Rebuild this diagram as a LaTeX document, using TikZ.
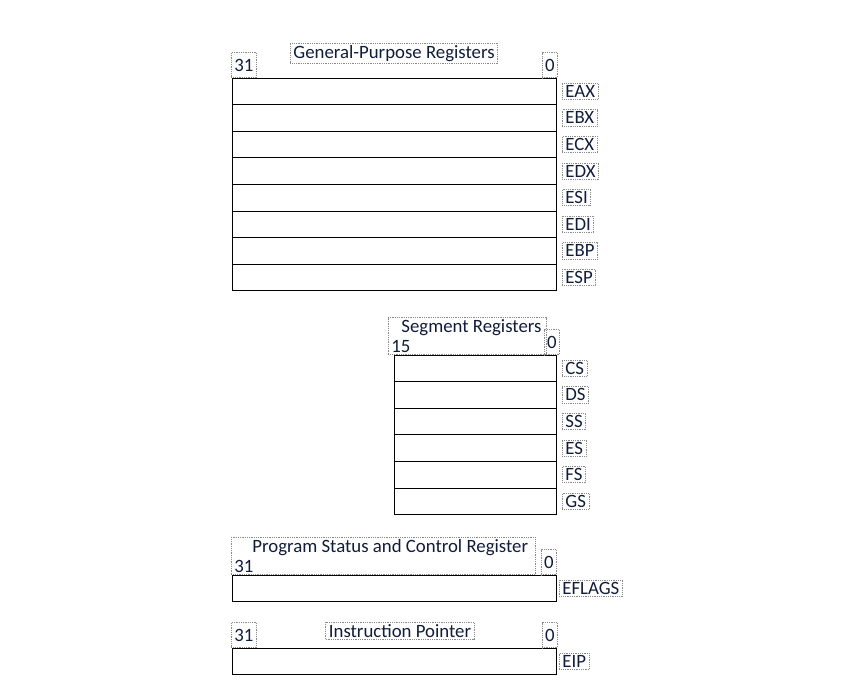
\documentclass[tikz,border=0pt]{standalone}
\usepackage{fontspec}
\setmainfont{Carlito}
\usepackage{xcolor}
\usepackage{tikz}
\usetikzlibrary{positioning}
\definecolor{RegInk}{HTML}{101C3A}
\definecolor{RegDot}{HTML}{8A8A8A}

\begin{document}
\begin{tikzpicture}[x=1pt,y=-1pt,
  reg/.style={draw=black,line width=1pt,minimum height=26.6pt,inner sep=0pt,outer sep=0pt},
  wide/.style={reg,minimum width=324pt},
  narrow/.style={reg,minimum width=162pt},
  tag/.style={draw=RegDot,densely dotted,line width=0.8pt,inner xsep=3pt,inner ysep=2pt,text=RegInk,font=\fontsize{18.8}{20}\selectfont},
  bit/.style={tag,minimum height=25pt},
  node distance=0pt
]
\useasboundingbox (0,0) rectangle (843,681);
% general-purpose registers
\node[wide,anchor=north west] (eax) at (232,78) {};
\node[wide,below=of eax] (ebx) {};
\node[wide,below=of ebx] (ecx) {};
\node[wide,below=of ecx] (edx) {};
\node[wide,below=of edx] (esi) {};
\node[wide,below=of esi] (edi) {};
\node[wide,below=of edi] (ebp) {};
\node[wide,below=of ebp] (esp) {};
\node[tag,above=14pt of eax.north] (gprtitle) {General-Purpose Registers};
\node[bit,anchor=south west] (gprhi) at ([xshift=-1pt]eax.north west) {31};
\node[bit,anchor=south east] (gprlo) at ([xshift=2pt]eax.north east) {0};
\node[tag,right=6pt of eax] (eaxname) {EAX};
\node[tag,right=6pt of ebx] (ebxname) {EBX};
\node[tag,right=6pt of ecx] (ecxname) {ECX};
\node[tag,right=6pt of edx] (edxname) {EDX};
\node[tag,right=6pt of esi] (esiname) {ESI};
\node[tag,right=6pt of edi] (ediname) {EDI};
\node[tag,right=6pt of ebp] (ebpname) {EBP};
\node[tag,right=6pt of esp] (espname) {ESP};
% segment registers
\node[narrow,anchor=north west] (cs) at (394,355) {};
\node[narrow,below=of cs] (ds) {};
\node[narrow,below=of ds] (ss) {};
\node[narrow,below=of ss] (es) {};
\node[narrow,below=of es] (fs) {};
\node[narrow,below=of fs] (gs) {};
\node[tag,align=left,anchor=south west] (segtitle) at ([xshift=-6pt]cs.north west) {\hspace*{10pt}Segment Registers\hspace*{2pt}\\15};
\node[bit,anchor=south east] (seglo) at ([xshift=4pt]cs.north east) {0};
\node[tag,right=6pt of cs] (csname) {CS};
\node[tag,right=6pt of ds] (dsname) {DS};
\node[tag,right=6pt of ss] (ssname) {SS};
\node[tag,right=6pt of es] (esname) {ES};
\node[tag,right=6pt of fs] (fsname) {FS};
\node[tag,right=6pt of gs] (gsname) {GS};
% status register
\node[wide,anchor=north west] (eflags) at (232,575) {};
\node[tag,align=left,anchor=south west] (flagtitle) at ([xshift=-1pt]eflags.north west) {\hspace*{18pt}Program Status and Control Register\hspace*{4pt}\\31};
\node[bit,anchor=south east] (flaglo) at ([xshift=1pt]eflags.north east) {0};
\node[tag,right=3pt of eflags] (eflagsname) {EFLAGS};
% instruction pointer
\node[wide,anchor=north west] (eip) at (232,648) {};
\node[tag,above=8pt of eip.north,xshift=6pt] (iptitle) {Instruction Pointer};
\node[bit,anchor=south west] (iphi) at ([xshift=-1pt]eip.north west) {31};
\node[bit,anchor=south east] (iplo) at ([xshift=2pt]eip.north east) {0};
\node[tag,right=3pt of eip] (eipname) {EIP};
\end{tikzpicture}
\end{document}
